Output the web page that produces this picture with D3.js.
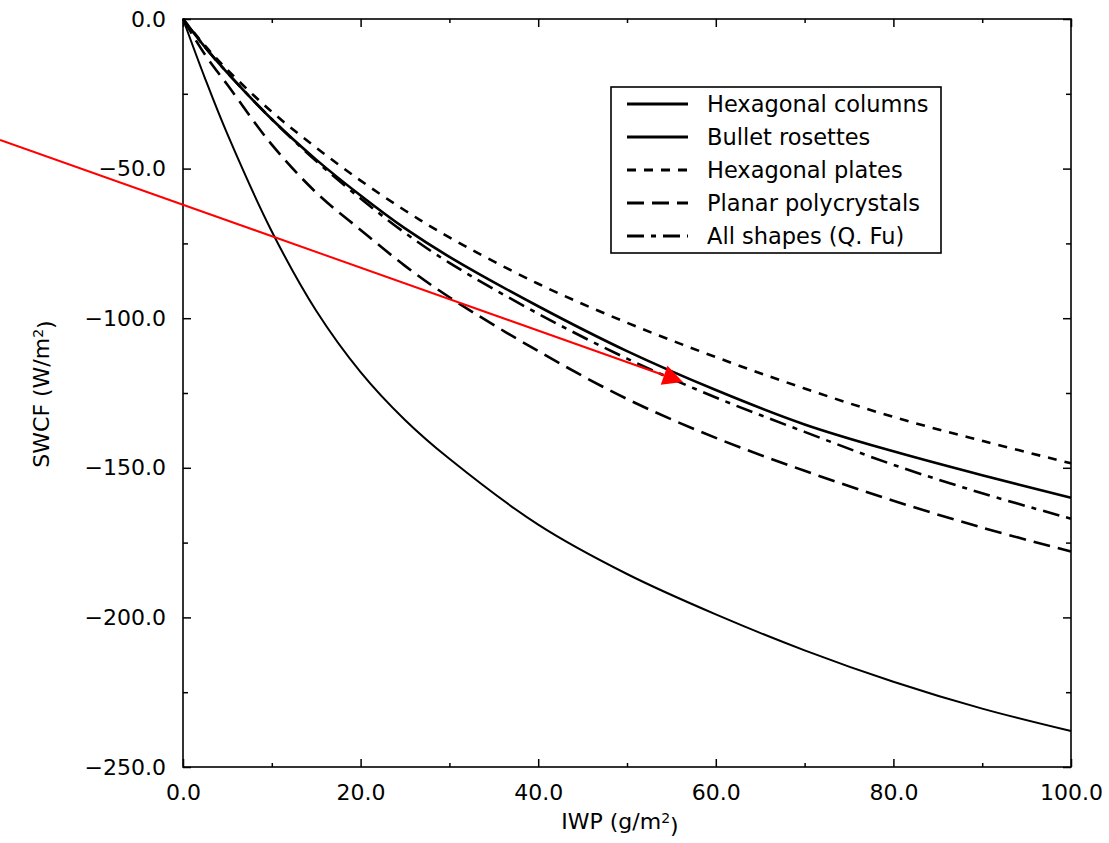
<!DOCTYPE html>
<html>
<head>
<meta charset="utf-8">
<script src="https://cdn.jsdelivr.net/npm/d3@7"></script>
<style>
  html, body { margin: 0; padding: 0; background: #fff; }
  svg { display: block; }
  text { font-family: "DejaVu Sans", sans-serif; fill: #000; }
</style>
</head>
<body>
<svg id="chart" width="1109" height="843"></svg>
<script>
// IWP sample points (g/m^2)
const iwp = [0, 2.5, 5, 10, 15, 20, 25, 30, 40, 50, 60, 70, 80, 90, 100];

// SWCF (W/m^2) for each ice crystal habit
const hexColumns     = [0, -20, -38.5, -71, -97.5, -118, -134, -147, -169, -185.5, -199, -211, -221.5, -230.5, -238];
const bulletRosettes = [0, -9.5, -18, -33.5, -47, -59, -70, -79.5, -96, -111, -124, -135.5, -144.5, -152.5, -160];
const hexPlates      = [0, -9, -17, -31, -43, -54, -64, -73, -88.5, -101.5, -113, -123.5, -133, -141, -148.5];
const planarPoly     = [0, -12, -22, -42, -58, -70.5, -82.5, -93, -111, -127, -140, -151, -161, -170, -178];
const allShapes      = [0, -9.5, -18, -33.5, -47.5, -60, -71.5, -81.5, -98.5, -113.5, -126.5, -138, -149, -158.5, -167];

const seriesNames = ["Hexagonal columns", "Bullet rosettes", "Hexagonal plates", "Planar polycrystals", "All shapes (Q. Fu)"];

// axis ticks
const xMajorTicks = [0, 20, 40, 60, 80, 100];
const xMinorTicks = [10, 30, 50, 70, 90];
const yMajorTicks = [0, -50, -100, -150, -200, -250];
const yMinorTicks = [-25, -75, -125, -175, -225];

// annotation arrow, in data units (IWP, SWCF)
const arrowFrom = [-20.6, -40.4];
const arrowTo   = [56.3, -121.3];

// line styling per series
const styles = [
  { width: 2,   dash: null },
  { width: 2.6, dash: null },
  { width: 2.6, dash: "9,8" },
  { width: 2.6, dash: "17,8" },
  { width: 2.6, dash: "17,7,5,7" }
];

const seriesValues = [hexColumns, bulletRosettes, hexPlates, planarPoly, allShapes];
const series = seriesNames.map((name, i) => ({
  name,
  style: styles[i],
  points: iwp.map((x, j) => [x, seriesValues[i][j]])
}));

const svg = d3.select("#chart");
const margin = { left: 183, right: 1109 - 1071, top: 19, bottom: 843 - 767 };
const W = 1109, H = 843;

const x = d3.scaleLinear().domain([0, 100]).range([margin.left, W - margin.right]);
const y = d3.scaleLinear().domain([-250, 0]).range([H - margin.bottom, margin.top]);

const fmt = d3.format(".1f");

// axes with inward ticks
svg.append("g").attr("transform", `translate(0,${y(-250)})`)
  .call(d3.axisBottom(x).tickValues(xMajorTicks).tickFormat(fmt).tickSize(-8).tickSizeOuter(0).tickPadding(17));
svg.append("g").attr("transform", `translate(0,${y(-250)})`)
  .call(d3.axisBottom(x).tickValues(xMinorTicks).tickFormat("").tickSize(-4).tickSizeOuter(0));
svg.append("g").attr("transform", `translate(0,${y(0)})`)
  .call(d3.axisTop(x).tickValues(xMajorTicks).tickFormat("").tickSize(-8).tickSizeOuter(0));
svg.append("g").attr("transform", `translate(0,${y(0)})`)
  .call(d3.axisTop(x).tickValues(xMinorTicks).tickFormat("").tickSize(-4).tickSizeOuter(0));

svg.append("g").attr("transform", `translate(${x(0)},0)`)
  .call(d3.axisLeft(y).tickValues(yMajorTicks).tickFormat(fmt).tickSize(-8).tickSizeOuter(0).tickPadding(17));
svg.append("g").attr("transform", `translate(${x(0)},0)`)
  .call(d3.axisLeft(y).tickValues(yMinorTicks).tickFormat("").tickSize(-5).tickSizeOuter(0));
svg.append("g").attr("transform", `translate(${x(100)},0)`)
  .call(d3.axisRight(y).tickValues(yMajorTicks).tickFormat("").tickSize(-8).tickSizeOuter(0));
svg.append("g").attr("transform", `translate(${x(100)},0)`)
  .call(d3.axisRight(y).tickValues(yMinorTicks).tickFormat("").tickSize(-5).tickSizeOuter(0));

svg.selectAll(".domain").remove();
svg.selectAll(".tick line").attr("stroke", "#000").attr("stroke-width", 1.5);
svg.selectAll(".tick text").style("font-size", "22px").attr("fill", "#000");

// plot frame
svg.append("rect")
  .attr("x", x(0)).attr("y", y(0))
  .attr("width", x(100) - x(0)).attr("height", y(-250) - y(0))
  .attr("fill", "none").attr("stroke", "#000").attr("stroke-width", 1.6);

// curves
const line = d3.line().x(d => x(d[0])).y(d => y(d[1])).curve(d3.curveCatmullRom.alpha(0.5));
svg.append("g").selectAll("path").data(series).join("path")
  .attr("d", d => line(d.points))
  .attr("fill", "none")
  .attr("stroke", "#000")
  .attr("stroke-width", d => d.style.width)
  .attr("stroke-dasharray", d => d.style.dash);

// legend
const legX = 611, legY = 87, legW = 330, legH = 166, rowH = 33;
const legend = svg.append("g");
legend.append("rect")
  .attr("x", legX).attr("y", legY).attr("width", legW).attr("height", legH)
  .attr("fill", "#fff").attr("stroke", "#000").attr("stroke-width", 1.6);
const rows = legend.selectAll("g.row").data(series).join("g")
  .attr("class", "row")
  .attr("transform", (d, i) => `translate(0,${legY + 17 + i * rowH})`);
rows.append("line")
  .attr("x1", 627).attr("x2", 688).attr("y1", 0).attr("y2", 0)
  .attr("stroke", "#000")
  .attr("stroke-width", 3)
  .attr("stroke-dasharray", d => d.style.dash);
rows.append("text")
  .attr("x", 707).attr("y", 0).attr("dy", "0.36em")
  .style("font-size", "22.5px")
  .text(d => d.name);

// axis titles
const xt = svg.append("text")
  .attr("x", 620).attr("y", 829)
  .attr("text-anchor", "middle")
  .style("font-size", "22px");
xt.append("tspan").text("IWP (g/m");
xt.append("tspan").attr("dy", "-0.45em").style("font-size", "14px").text("2");
xt.append("tspan").attr("dy", "0.45em").text(")");

const yt = svg.append("text")
  .attr("transform", `translate(49,394) rotate(-90)`)
  .attr("text-anchor", "middle")
  .style("font-size", "22px");
yt.append("tspan").text("SWCF (W/m");
yt.append("tspan").attr("dy", "-0.45em").style("font-size", "14px").text("2");
yt.append("tspan").attr("dy", "0.45em").text(")");

// red annotation arrow
const p0 = [x(arrowFrom[0]), y(arrowFrom[1])];
const p1 = [x(arrowTo[0]), y(arrowTo[1])];
const ang = Math.atan2(p1[1] - p0[1], p1[0] - p0[0]);
const headLen = 20, headHalf = 10;
const base = [p1[0] - headLen * Math.cos(ang), p1[1] - headLen * Math.sin(ang)];
svg.append("line")
  .attr("x1", p0[0]).attr("y1", p0[1]).attr("x2", base[0]).attr("y2", base[1])
  .attr("stroke", "#ff0000").attr("stroke-width", 2);
svg.append("path")
  .attr("d", d3.line()([
    p1,
    [base[0] + headHalf * Math.sin(ang), base[1] - headHalf * Math.cos(ang)],
    [base[0] - headHalf * Math.sin(ang), base[1] + headHalf * Math.cos(ang)]
  ]) + "Z")
  .attr("fill", "#ff0000");
</script>
</body>
</html>
